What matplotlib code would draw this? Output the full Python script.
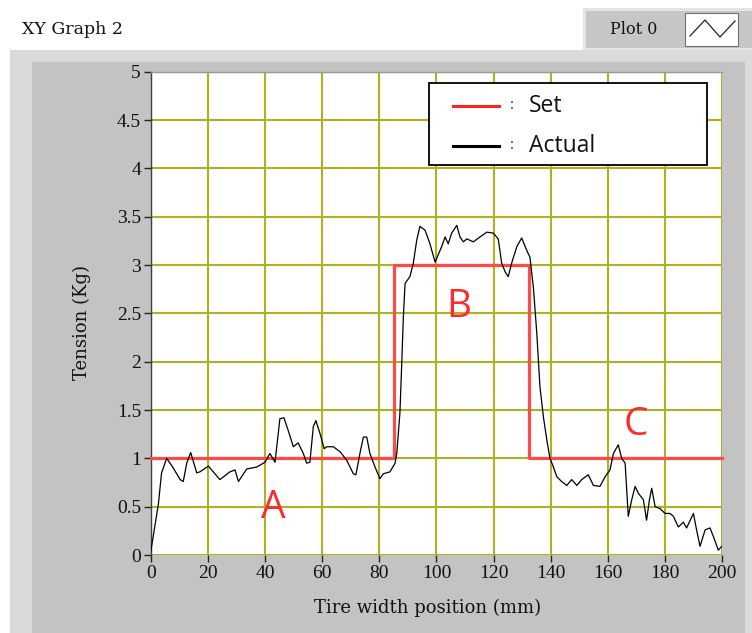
import matplotlib
matplotlib.use("Agg")
import matplotlib.pyplot as plt
from matplotlib.patches import Rectangle
from matplotlib.lines import Line2D

# ---- data ----
set_x = [0, 85, 85, 132.5, 132.5, 200]
set_y = [1, 1, 3, 3, 1, 1]

actual_x = [0, 2.7, 3.8, 5.6, 7.9, 10.3, 11.4, 12.6, 14.0, 16.1, 17.2, 20.2, 24.2, 27.7, 29.5,
            30.7, 33.6, 37.1, 40.0, 41.7, 43.5, 45.2, 46.6, 48.1, 49.9, 51.6, 53.4, 54.6, 55.7,
            56.9, 57.8, 59.2, 60.7, 61.6, 63.9, 66.2, 68.6, 70.9, 71.8, 73.2, 74.4, 75.6, 76.7,
            78.5, 80.2, 81.4, 83.7, 85.5, 86.1, 87.2, 87.8, 88.4, 89.0, 90.7, 91.9, 93.1, 94.2,
            96.0, 97.7, 99.5, 101.8, 103.0, 104.1, 105.3, 107.1, 108.2, 109.4, 110.6, 112.9,
            115.2, 117.6, 119.9, 121.6, 122.8, 124.0, 125.1, 126.3, 128.1, 129.8, 131.6, 132.7,
            133.9, 135.1, 136.2, 137.4, 138.6, 139.7, 140.9, 142.1, 143.8, 145.6, 147.3, 149.1,
            150.8, 153.1, 154.9, 157.2, 159.0, 160.7, 161.9, 163.6, 164.8, 166.0, 167.1, 168.3,
            169.5, 170.6, 172.4, 173.5, 174.5, 175.3, 176.5, 178.2, 180.0, 181.7, 182.9, 184.6,
            186.4, 187.5, 189.9, 191.0, 192.2, 194.0, 195.7, 196.9, 198.6, 199.8]
actual_y = [0.03, 0.53, 0.85, 1.00, 0.90, 0.78, 0.76, 0.95, 1.06, 0.85, 0.86, 0.92, 0.78, 0.86, 0.88,
            0.76, 0.89, 0.91, 0.96, 1.05, 0.96, 1.41, 1.42, 1.29, 1.12, 1.16, 1.05, 0.95, 0.96,
            1.33, 1.39, 1.26, 1.10, 1.12, 1.12, 1.07, 0.98, 0.84, 0.83, 1.05, 1.22, 1.22, 1.05,
            0.91, 0.79, 0.84, 0.86, 0.95, 1.05, 1.47, 1.95, 2.46, 2.81, 2.88, 3.02, 3.26, 3.40,
            3.36, 3.22, 3.03, 3.19, 3.29, 3.22, 3.33, 3.41, 3.29, 3.24, 3.27, 3.24,
            3.29, 3.34, 3.33, 3.27, 3.02, 2.93, 2.88, 3.02, 3.19, 3.28, 3.15, 3.08,
            2.77, 2.29, 1.74, 1.43, 1.19, 1.00, 0.91, 0.81, 0.76, 0.72, 0.78, 0.72,
            0.78, 0.83, 0.72, 0.71, 0.81, 0.88, 1.05, 1.14, 1.00, 0.95, 0.40, 0.57,
            0.71, 0.64, 0.57, 0.36, 0.57, 0.69, 0.50, 0.48, 0.43, 0.43, 0.40, 0.29,
            0.34, 0.28, 0.43, 0.26, 0.09, 0.26, 0.28, 0.19, 0.05, 0.09]

x_ticks = [0, 20, 40, 60, 80, 100, 120, 140, 160, 180, 200]
y_ticks = [0, 0.5, 1, 1.5, 2, 2.5, 3, 3.5, 4, 4.5, 5]
y_tick_labels = ["0", "0.5", "1", "1.5", "2", "2.5", "3", "3.5", "4", "4.5", "5"]

annotations = [("A", 42.9, 0.38), ("B", 107.9, 2.46), ("C", 169.7, 1.24)]
legend_labels = ["Set", "Actual"]
legend_colors = ["#ff2020", "black"]

W, H = 752, 633
fig = plt.figure(figsize=(W / 100, H / 100), dpi=100, facecolor="white")

def frect(x0, y0, x1, y1, **kw):
    # pixel coords (top-left origin) -> figure fraction
    r = Rectangle((x0 / W, 1 - y1 / H), (x1 - x0) / W, (y1 - y0) / H,
                  transform=fig.transFigure, zorder=-10, **kw)
    fig.patches.append(r)
    return r

serif = ["DejaVu Serif"]
tserif = ["Liberation Serif", "DejaVu Serif"]
sans = ["Open Sans", "DejaVu Sans"]

# panel background (3D bevel look)
frect(10, 50, 752, 633, facecolor="#dadada", edgecolor="none")
frect(32, 62, 745, 633, facecolor="#c3c3c3", edgecolor="none")

# header
fig.text(22 / W, 1 - 30 / H, "XY Graph 2", family=serif, fontsize=12.5,
         va="center", ha="left", color="#111111")
frect(583, 8, 752, 50, facecolor="#e4e4e4", edgecolor="none")
frect(586, 11, 752, 48, facecolor="#c6c6c6", edgecolor="none")
fig.text(634 / W, 1 - 29 / H, "Plot 0", family=serif, fontsize=11.5,
         va="center", ha="center", color="#111111")
frect(685, 13, 738, 46, facecolor="white", edgecolor="#707070", linewidth=0.8)
icon_px = [(690, 36), (705, 20), (720, 37), (735, 21)]
fig.lines.append(Line2D([p[0] / W for p in icon_px], [1 - p[1] / H for p in icon_px],
                        transform=fig.transFigure, color="#222222", linewidth=0.9))

# axes
ax_l, ax_r, ax_t, ax_b = 150.7, 722.3, 71.7, 555.0
ax = fig.add_axes([ax_l / W, 1 - ax_b / H, (ax_r - ax_l) / W, (ax_b - ax_t) / H])
ax.set_facecolor("white")
ax.set_xlim(0, 200)
ax.set_ylim(0, 5)
ax.set_xticks(x_ticks)
ax.set_xticklabels([str(v) for v in x_ticks])
ax.set_yticks(y_ticks)
ax.set_yticklabels(y_tick_labels)
ax.grid(True, color="#b0b020", linewidth=1.5)
ax.set_axisbelow(True)
for lab in ax.get_xticklabels() + ax.get_yticklabels():
    lab.set_family(tserif)
    lab.set_fontsize(14)
    lab.set_color("#111111")
ax.tick_params(axis="both", direction="out", length=5, width=1, color="#222222", pad=2)
ax.spines["left"].set_color("#404040")
ax.spines["left"].set_linewidth(1.0)
ax.spines["top"].set_color("#9a9a9a")
ax.spines["top"].set_linewidth(1.0)
ax.spines["right"].set_visible(False)
ax.spines["bottom"].set_visible(False)

ax.plot(set_x, set_y, color="#ff4a4a", linewidth=2.3, zorder=3, clip_on=False)
ax.plot(actual_x, actual_y, color="black", linewidth=0.9, zorder=4)

for t, xx, yy in annotations:
    ax.text(xx, yy, t, color="#ff2a2a", family=sans, fontsize=28, ha="center", va="baseline")

xl = ax.set_xlabel("Tire width position (mm)", family=serif, fontsize=13, color="#111111")
yl = ax.set_ylabel("Tension (Kg)", family=serif, fontsize=13, color="#111111")
ax.xaxis.set_label_coords((428 - ax_l) / (ax_r - ax_l), (ax_b - 608) / (ax_b - ax_t))
ax.yaxis.set_label_coords((82 - ax_l) / (ax_r - ax_l), (ax_b - 323) / (ax_b - ax_t))
xl.set_va("center")
yl.set_va("center")

# legend box (drawn in pixel-derived axes fractions)
def axf(px, py):
    return (px - ax_l) / (ax_r - ax_l), (ax_b - py) / (ax_b - ax_t)

lx0, ly0 = axf(429, 165)
lx1, ly1 = axf(707, 83)
ax.add_patch(Rectangle((lx0, ly0), lx1 - lx0, ly1 - ly0, transform=ax.transAxes,
                       facecolor="white", edgecolor="black", linewidth=1.3, zorder=6))
for i, (lab, col) in enumerate(zip(legend_labels, legend_colors)):
    row_py = 106 + 40 * i
    hx0, hy = axf(453, row_py)
    hx1, _ = axf(499, row_py)
    ax.add_line(Line2D([hx0, hx1], [hy, hy], transform=ax.transAxes, color=col,
                       linewidth=2.2, zorder=7))
    cx, cy = axf(512, row_py)
    ax.text(cx, cy, ":", transform=ax.transAxes, family=sans, fontsize=11,
            ha="center", va="center", color="#222222", zorder=7)
    tx, ty = axf(529, row_py)
    ax.text(tx, ty, lab, transform=ax.transAxes, family=sans, fontsize=16.5,
            ha="left", va="center", color="#111111", zorder=7)

fig.savefig("out.png", dpi=100, facecolor=fig.get_facecolor())
